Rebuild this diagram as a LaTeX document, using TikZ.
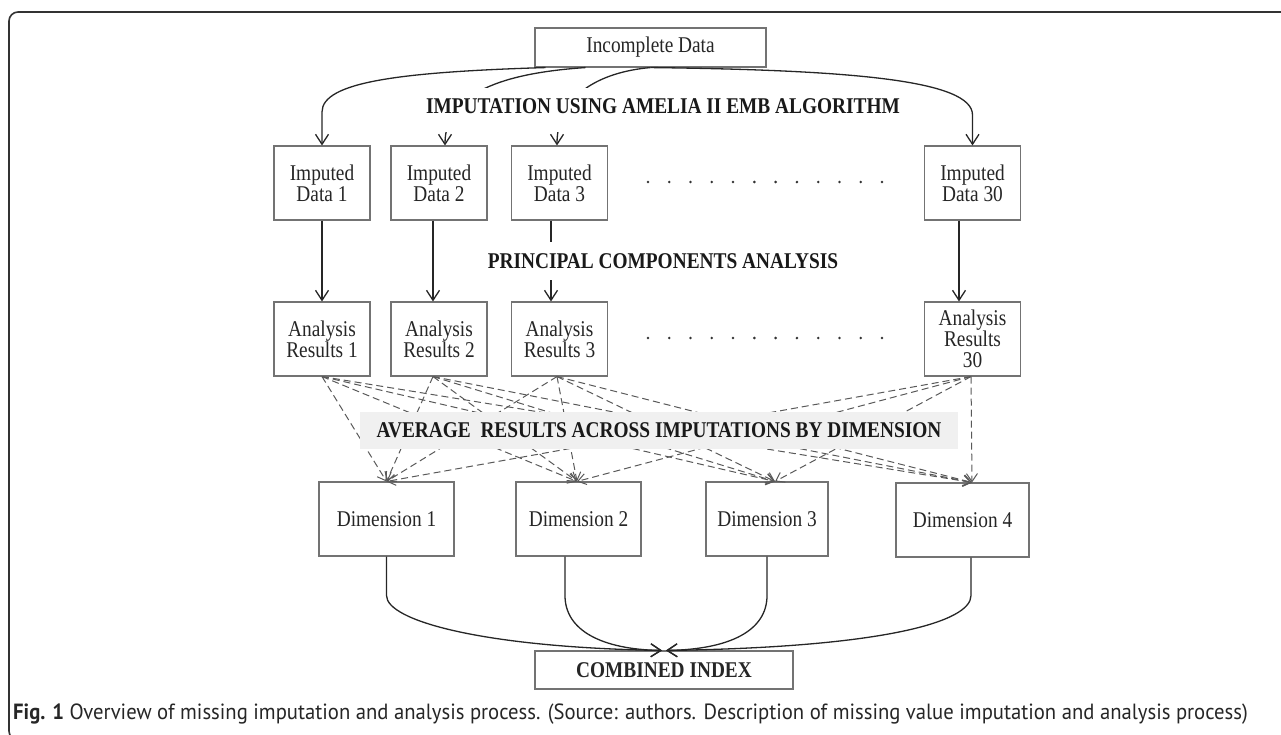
\documentclass[tikz,border=0pt]{standalone}
\usepackage{fontspec}
\setmainfont{Liberation Serif}[FakeStretch=0.86]
\newfontfamily\capfont{PT Sans}[FakeStretch=0.94]
\usetikzlibrary{arrows.meta}
\begin{document}
\begin{tikzpicture}[x=1pt, y=-1pt, >={Straight Barb[length=10pt,width=13pt]},
    box/.style={draw=black!55, line width=1.1pt, fill=white, inner sep=0pt, align=center, text=black!85, font=\fontsize{22.5}{21}\selectfont, minimum height=74pt},
    imp/.style={box, minimum width=96pt},
    title/.style={fill=white, inner sep=0pt, text=black!90, font=\fontsize{22.5}{21}\selectfont\bfseries},
    link/.style={->, line width=1.3pt, black!85},
    avg/.style={->, draw=black!65, line width=1pt, dash pattern=on 7pt off 4pt, >={Straight Barb[length=8pt,width=11pt]}}]
    \useasboundingbox (0,0) rectangle (1281,734);
    \draw [line width=1.6pt, rounded corners=9pt, black!80] (1300,12) -| (9,740) -- (1300,740);
    \node [box, minimum width=231pt, minimum height=39pt] (inc) at (650.5,47.5) {Incomplete Data};
    \node [imp] (i1) at (322,183) {Imputed\\Data 1};
    \node [imp] (i2) at (439,183) {Imputed\\Data 2};
    \node [imp] (i3) at (559.5,183) {Imputed\\Data 3};
    \node [imp] (i30) at (972.5,183) {Imputed\\Data 30};
    \node [imp] (a1) at (322,339) {Analysis\\Results 1};
    \node [imp] (a2) at (439,339) {Analysis\\Results 2};
    \node [imp] (a3) at (559.5,339) {Analysis\\Results 3};
    \node [imp] (a30) at (972.5,339) {Analysis\\Results\\30};
    \node [box, minimum width=135pt] (d1) at (386.5,519) {Dimension 1};
    \node [box, minimum width=125pt] (d2) at (578.5,519) {Dimension 2};
    \node [box, minimum width=122pt] (d3) at (767,519) {Dimension 3};
    \node [box, minimum width=133pt] (d4) at (962.5,520) {Dimension 4};
    \node [box, minimum width=258pt, minimum height=38pt, font=\fontsize{22.5}{21}\selectfont\bfseries] (ci) at (664,670) {COMBINED INDEX};
    \foreach \k in {0,...,11} {
        \fill [black!80] (648+\k*21.27,182) circle (1.4pt);
        \fill [black!80] (648+\k*21.27,338) circle (1.4pt);
    }
    \draw [link] ([xshift=-105pt]inc.south) .. controls (400,72) and (322,82) .. (322,112) -- (i1.north);
    \draw [link] ([xshift=-65pt]inc.south) .. controls (505,73) and (445,92) .. ([xshift=6pt]i2.north);
    \draw [link] (inc.south) .. controls (600,72) and (557,95) .. ([xshift=-2.5pt]i3.north);
    \draw [link] (inc.south) .. controls (850,70) and (972.5,80) .. (972.5,115) -- (i30.north);
    \node [title, minimum height=44pt, text height=14.9pt, text depth=7pt] (imptitle) at (663,110) {IMPUTATION USING AMELIA II EMB ALGORITHM};
    \draw [link] (i1) -- (a1);
    \draw [link] ([xshift=-6pt]i2.south) -- ([xshift=-6pt]a2.north);
    \draw [link] ([xshift=-8.5pt]i3.south) -- ([xshift=-8.5pt]a3.north);
    \draw [link] ([xshift=-13.5pt]i30.south) -- ([xshift=-13.5pt]a30.north);
    \node [title, minimum height=38pt] (pcatitle) at (663,261) {PRINCIPAL COMPONENTS ANALYSIS};
    \foreach \a/\sa in {a1/0, a2/-6, a3/-2.5, a30/-1.5}
        \foreach \d/\sd in {d1/0, d2/-1.5, d3/8, d4/9.5}
            \draw [avg] ([xshift=\sa pt]\a.south) -- ([xshift=\sd pt]\d.north);
    \node [title, fill=black!6, minimum width=598pt, minimum height=37pt] (avgtitle) at (659,430.5) {AVERAGE\ \ RESULTS ACROSS IMPUTATIONS BY DIMENSION};
    \draw [link] (d1.south) -- ++(0,39) .. controls +(0,25) and +(-180,-3) .. ([xshift=-2pt]ci.north);
    \draw [link] ([xshift=-13.5pt]d2.south) -- ++(0,39) .. controls +(0,35) and +(-60,-1) .. ([xshift=-2pt]ci.north);
    \draw [link] (d3.south) -- ++(0,39) .. controls +(0,35) and +(64,-1) .. ([xshift=2pt]ci.north);
    \draw [link] ([xshift=8.5pt]d4.south) -- ++(0,38) .. controls +(0,27) and +(214,-3) .. ([xshift=2pt]ci.north);
    \node [anchor=base west, inner sep=0pt, text=black!85, font=\capfont\fontsize{22}{22}\selectfont] (caption) at (13,719) {\textbf{Fig. 1} Overview of missing imputation and analysis process. (Source: authors. Description of missing value imputation and analysis process)};
\end{tikzpicture}
\end{document}
